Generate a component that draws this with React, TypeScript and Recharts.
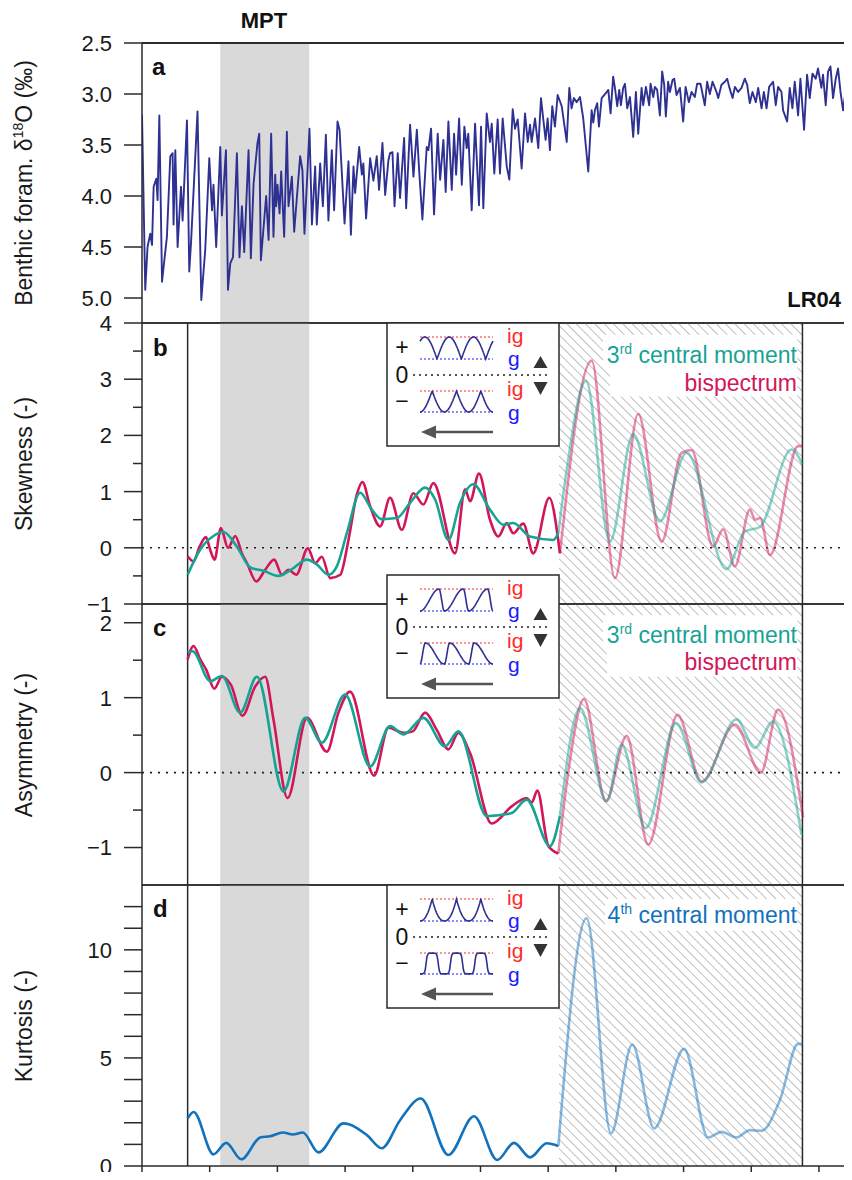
import React from "react";
import { LineChart, Line, XAxis, YAxis, ReferenceArea, ReferenceLine } from "recharts";

// ---- data (age in Ma) ----
const AGE_A = [
  0.0, 0.024, 0.041, 0.061, 0.074, 0.086, 0.106, 0.115, 0.128, 0.148, 0.165, 0.184, 0.209, 0.226, 0.233, 0.246, 0.263,
  0.288, 0.3, 0.332, 0.349, 0.362, 0.41, 0.438, 0.467, 0.497, 0.517, 0.528, 0.548, 0.578, 0.59, 0.62, 0.635, 0.652,
  0.672, 0.701, 0.72, 0.738, 0.755, 0.787, 0.804, 0.824, 0.853, 0.866, 0.878, 0.917, 0.935, 0.954, 0.971, 0.984, 0.991,
  1.001, 1.016, 1.028, 1.05, 1.07, 1.082, 1.107, 1.124, 1.168, 1.185, 1.2, 1.237, 1.255, 1.279, 1.291, 1.316, 1.336,
  1.358, 1.377, 1.402, 1.419, 1.444, 1.459, 1.496, 1.525, 1.543, 1.562, 1.574, 1.604, 1.624, 1.635, 1.655, 1.685, 1.709,
  1.734, 1.751, 1.776, 1.796, 1.82, 1.832, 1.85, 1.865, 1.889, 1.906, 1.936, 1.951, 1.98, 2.005, 2.03, 2.047, 2.071,
  2.103, 2.115, 2.135, 2.157, 2.184, 2.202, 2.226, 2.243, 2.263, 2.288, 2.305, 2.32, 2.342, 2.362, 2.381, 2.398, 2.41,
  2.435, 2.46, 2.489, 2.504, 2.521, 2.546, 2.57, 2.583, 2.602, 2.627, 2.644, 2.664, 2.694, 2.713, 2.738, 2.755, 2.775,
  2.804, 2.829, 2.849, 2.866, 2.878, 2.903, 2.927, 2.947, 2.964, 2.981, 2.996, 3.013, 3.03, 3.05, 3.07, 3.1, 3.137,
  3.156, 3.173, 3.19, 3.21, 3.235, 3.259, 3.296, 3.321, 3.333, 3.345, 3.362, 3.375, 3.395, 3.427, 3.444, 3.461, 3.48,
  3.493, 3.51, 3.525, 3.537, 3.554, 3.567, 3.584, 3.604, 3.628, 3.648, 3.665, 3.69, 3.702, 3.722, 3.746, 3.756, 3.776,
  3.788, 3.805, 3.825, 3.842, 3.857, 3.869, 3.886, 3.899, 3.919, 3.931, 3.948, 3.973, 3.997, 4.015, 4.039, 4.059, 4.083,
  4.1, 4.125, 4.157, 4.174, 4.194, 4.214, 4.243, 4.256, 4.28, 4.305, 4.322, 4.337, 4.362, 4.379, 4.403, 4.428, 4.452,
  4.47, 4.489, 4.509, 4.534, 4.551, 4.576, 4.593, 4.613, 4.632, 4.661, 4.681, 4.698, 4.723, 4.735, 4.765, 4.784, 4.804,
  4.821, 4.846, 4.863, 4.89, 4.912, 4.932, 4.952, 4.976, 4.993, 5.018, 5.03, 5.05, 5.067, 5.085, 5.104, 5.124, 5.141,
  5.159, 5.178, 5.203, 5.222, 5.237,
];
const D18O = [
  3.2, 4.92, 4.5, 4.37, 4.48, 3.91, 3.83, 4.04, 3.21, 4.84, 4.63, 4.4, 3.61, 3.58, 4.28, 3.55, 4.5,
  3.91, 4.24, 3.26, 4.74, 4.46, 3.17, 5.02, 4.53, 3.63, 4.14, 3.89, 4.5, 3.52, 4.19, 3.55, 4.92, 4.66,
  4.6, 3.58, 4.6, 4.1, 4.55, 3.55, 4.61, 3.88, 3.48, 3.39, 4.63, 4.0, 4.43, 3.39, 4.4, 3.79, 4.1,
  3.89, 4.17, 3.76, 4.4, 3.37, 4.1, 3.81, 4.35, 3.61, 3.75, 4.37, 3.34, 4.28, 3.71, 4.28, 3.68, 4.1,
  3.4, 4.24, 3.55, 4.14, 3.27, 3.35, 4.27, 3.66, 4.38, 3.71, 3.97, 3.52, 3.79, 3.68, 4.22, 3.63, 3.85,
  3.61, 3.94, 3.48, 3.99, 3.65, 3.58, 3.57, 4.1, 3.58, 4.02, 3.43, 4.12, 3.3, 3.81, 3.35, 3.75, 4.23,
  3.52, 3.55, 3.34, 4.18, 3.39, 3.84, 3.45, 3.96, 3.27, 3.94, 3.39, 3.79, 3.24, 3.89, 3.32, 3.53, 3.39,
  4.14, 3.29, 4.09, 3.32, 4.12, 3.19, 3.47, 3.29, 3.78, 3.25, 3.78, 3.24, 3.71, 3.84, 3.15, 3.34, 3.25,
  3.73, 3.19, 3.47, 3.3, 3.47, 3.24, 3.53, 3.04, 3.25, 3.45, 3.24, 3.55, 3.12, 3.32, 3.01, 3.12, 3.47,
  2.94, 3.14, 3.04, 3.08, 3.03, 3.24, 3.76, 3.16, 3.28, 3.16, 3.09, 3.32, 3.04, 2.99, 2.96, 3.19, 2.83,
  2.94, 3.12, 2.96, 3.11, 2.94, 2.9, 3.14, 3.03, 3.42, 2.98, 3.39, 2.94, 3.11, 2.93, 3.11, 2.9, 3.03,
  2.93, 2.96, 3.21, 2.78, 2.91, 3.22, 2.88, 2.98, 2.86, 2.85, 3.01, 2.94, 3.27, 2.93, 3.08, 2.98, 3.03,
  2.9, 2.9, 3.11, 2.88, 3.0, 2.88, 2.98, 3.04, 2.91, 2.88, 2.85, 2.93, 3.04, 2.93, 2.98, 2.94, 2.85,
  2.91, 3.09, 2.98, 3.08, 2.94, 3.14, 2.98, 3.14, 2.93, 2.88, 3.11, 2.93, 2.98, 3.16, 3.27, 2.94, 3.14,
  2.88, 3.21, 2.85, 3.35, 2.81, 3.04, 2.8, 2.85, 2.75, 2.94, 2.81, 3.11, 2.78, 2.73, 3.04, 2.85, 2.75,
  2.98, 3.16, 2.91, 2.94, 2.88,
];

const SKEW_BI_AGE = [
  0.337, 0.381, 0.425, 0.472, 0.504, 0.536, 0.583, 0.635, 0.689, 0.738, 0.775, 0.844, 0.91, 0.976, 1.033, 1.082,
  1.139, 1.225, 1.279, 1.328, 1.39, 1.464, 1.525, 1.587, 1.628, 1.685, 1.759, 1.832, 1.919, 2.004, 2.078, 2.152,
  2.312, 2.386, 2.423, 2.489, 2.57, 2.632, 2.694, 2.742, 2.816, 2.89, 3.008, 3.087, 3.321, 3.493, 3.665, 3.838,
  3.985, 4.059, 4.218, 4.292, 4.379, 4.49, 4.528, 4.565, 4.638, 4.846, 4.878,
];
const SKEW_BI = [
  -0.15, -0.24, 0.02, 0.19, -0.04, -0.21, 0.35, 0.0, 0.21, -0.1, -0.27, -0.6, -0.39, -0.21, -0.48, -0.39,
  -0.48, -0.01, -0.27, -0.16, -0.54, -0.48, 0.14, 0.95, 1.17, 0.74, 0.38, 0.89, 0.32, 0.97, 0.77, 1.15,
  -0.1, 1.04, 0.83, 1.32, 0.5, 0.2, 0.44, 0.26, 0.43, -0.1, 0.89, -0.1, 3.33, -0.54, 2.38, 0.11,
  1.69, 1.74, 0.02, 0.33, -0.33, 0.68, 0.5, 0.53, -0.13, 1.81, 1.81,
];
const SKEW_CM_AGE = [
  0.337, 0.43, 0.528, 0.602, 0.701, 0.8, 0.898, 1.008, 1.107, 1.218, 1.292, 1.377, 1.439, 1.513, 1.611, 1.697,
  1.771, 1.882, 1.98, 2.091, 2.165, 2.263, 2.349, 2.447, 2.57, 2.669, 2.742, 2.866, 3.038, 3.075, 3.137, 3.279,
  3.456, 3.628, 3.825, 4.022, 4.317, 4.452, 4.563, 4.797, 4.878,
];
const SKEW_CM = [
  -0.48, -0.03, 0.21, 0.28, 0.02, -0.35, -0.41, -0.5, -0.38, -0.21, -0.3, -0.48, -0.33, 0.26, 0.98, 0.68,
  0.51, 0.53, 0.8, 1.07, 0.86, 0.14, 0.8, 1.13, 0.68, 0.41, 0.44, 0.2, 0.14, 0.26, 1.39, 2.97,
  0.11, 2.02, 0.47, 1.69, -0.38, 0.29, 0.37, 1.75, 1.48,
];

const ASYM_BI_AGE = [
  0.337, 0.381, 0.43, 0.475, 0.534, 0.59, 0.657, 0.742, 0.836, 0.91, 0.971, 1.075, 1.218, 1.365, 1.451, 1.537,
  1.714, 1.82, 1.931, 2.0, 2.091, 2.177, 2.263, 2.337, 2.423, 2.583, 2.731, 2.841, 2.878, 2.92, 3.001, 3.075,
  3.148, 3.264, 3.427, 3.579, 3.739, 3.956, 4.133, 4.379, 4.571, 4.698, 4.883,
];
const ASYM_BI = [
  1.51, 1.69, 1.51, 1.37, 1.12, 1.28, 1.17, 0.76, 1.15, 1.28, 0.71, -0.34, 0.73, 0.28, 0.8, 1.08,
  -0.04, 0.6, 0.53, 0.55, 0.8, 0.57, 0.31, 0.53, 0.26, -0.68, -0.45, -0.34, -0.4, -0.24, -0.98, -1.08,
  0.0, 0.98, -0.38, 0.49, -0.96, 0.77, -0.12, 0.64, 0.0, 0.84, -0.6,
];
const ASYM_CM_AGE = [
  0.337, 0.373, 0.504, 0.59, 0.725, 0.849, 1.045, 1.205, 1.328, 1.5, 1.685, 1.832, 1.931, 2.078, 2.238, 2.337,
  2.546, 2.669, 2.731, 2.841, 3.013, 3.087, 3.235, 3.432, 3.542, 3.72, 3.945, 4.133, 4.391, 4.526, 4.661, 4.871,
];
const ASYM_CM = [
  1.6, 1.62, 1.22, 1.29, 0.8, 1.28, -0.25, 0.73, 0.4, 1.04, 0.08, 0.62, 0.51, 0.73, 0.35, 0.55,
  -0.58, -0.56, -0.54, -0.36, -0.98, -0.58, 0.86, -0.38, 0.37, -0.74, 0.66, -0.13, 0.71, 0.33, 0.68, -0.83,
];

const KURT_AGE = [
  0.337, 0.381, 0.528, 0.622, 0.733, 0.873, 0.947, 1.041, 1.114, 1.188, 1.303, 1.488, 1.661, 1.771, 1.906, 2.059,
  2.263, 2.452, 2.624, 2.748, 2.866, 2.989, 3.075, 3.284, 3.464, 3.621, 3.783, 4.004, 4.182, 4.28, 4.391, 4.489,
  4.576, 4.711, 4.846, 4.878,
];
const KURT = [
  2.2, 2.5, 0.54, 1.07, 0.31, 1.32, 1.38, 1.55, 1.46, 1.55, 0.63, 1.97, 1.43, 0.82, 2.12, 3.12,
  0.51, 2.3, 0.28, 1.07, 0.4, 1.05, 0.92, 11.46, 1.51, 5.62, 1.74, 5.42, 1.32, 1.58, 1.32, 1.66,
  1.63, 3.04, 5.65, 5.65,
];

const X_TICKS = [0, 0.5, 1, 1.5, 2, 2.5, 3, 3.5, 4, 4.5, 5];
const TICKS_A = [2.5, 3, 3.5, 4, 4.5, 5];
const TICKS_B = [-1, -0.5, 0, 0.5, 1, 1.5, 2, 2.5, 3, 3.5, 4];
const TICKS_C = [-1, -0.5, 0, 0.5, 1, 1.5, 2];
const TICKS_D = [0, 1, 2, 3, 4, 5, 6, 7, 8, 9, 10, 11, 12];

// ---- layout / style ----
const W = 852;
const AXIS_W = 142;
const X_MAX = 5.244;
const MPT = [0.578, 1.235];
const WINDOW = [0.337, 4.878];
const HATCH_START = 3.08;
const CUT = 3.09;

const FONT = '"Liberation Sans", Arial, Helvetica, sans-serif';
const INK = "#2a2a2a";
const NAVY = "#2e3192";
const TEAL = "#17a394";
const CRIMSON = "#d2165a";
const KBLUE = "#1172bd";
const RED = "#ff2a2a";
const BLUE = "#1a1aff";

type Pt = { age: number; v: number };

const toPts = (ages: number[], vals: number[]): Pt[] => ages.map((a, i) => ({ age: a, v: vals[i] }));

// solid part before the hatched window, faded part after it (sharing the joining point)
function split(ages: number[], vals: number[]): [Pt[], Pt[]] {
  const pts = toPts(ages, vals);
  let k = 0;
  pts.forEach((p, i) => {
    if (p.age <= CUT) k = i;
  });
  return [pts.slice(0, k + 1), pts.slice(k)];
}

const fmtNum = (v: number) => (v < 0 ? "\u2212" + Math.abs(v) : String(v));

function YTick(props: any) {
  const { x, y, payload, isMajor, isLong, format } = props;
  const v = payload.value;
  const ax = x + 12 + 18;
  const long = isLong(v);
  return (
    <g>
      <line x1={ax - (long ? 18 : 9)} x2={ax} y1={y} y2={y} stroke={INK} strokeWidth={1.5} />
      {isMajor(v) && (
        <text x={x} y={y} dy="0.36em" textAnchor="end" fontFamily={FONT} fontSize={22} fill="#1a1a1a">
          {format(v)}
        </text>
      )}
    </g>
  );
}

type SeriesDef = { color: string; solid: Pt[]; faded: Pt[] };

function MomentPanel(props: {
  top: number;
  domain: [number, number];
  ticks: number[];
  isMajor: (v: number) => boolean;
  isLong: (v: number) => boolean;
  series: SeriesDef[];
  boxes: [number, number, number, number][];
  zero: boolean;
  xAxis: boolean;
}) {
  const { top, domain, ticks, isMajor, isLong, series, boxes, zero, xAxis } = props;
  const h = 281;
  const height = 20 + h + (xAxis ? 30 : 20);
  return (
    <div style={{ position: "absolute", left: 0, top: top - 20 }}>
      <LineChart width={W} height={height} margin={{ top: 20, right: 0, bottom: xAxis ? 0 : 20, left: 0 }}>
        <XAxis
          type="number"
          dataKey="age"
          domain={[0, X_MAX]}
          allowDataOverflow
          hide={!xAxis}
          ticks={X_TICKS}
          interval={0}
          height={30}
          tickSize={14}
          tick={() => <g />}
          axisLine={{ stroke: INK, strokeWidth: 1.5 }}
          tickLine={{ stroke: INK, strokeWidth: 1.5 }}
        />
        <YAxis
          type="number"
          domain={domain}
          allowDataOverflow
          ticks={ticks}
          interval={0}
          width={AXIS_W}
          tickSize={18}
          tickMargin={12}
          tickLine={false}
          axisLine={{ stroke: INK, strokeWidth: 1.5 }}
          tick={(p: any) => <YTick {...p} isMajor={isMajor} isLong={isLong} format={fmtNum} />}
        />
        <ReferenceArea x1={MPT[0]} x2={MPT[1]} fill="#d9d9d9" fillOpacity={1} stroke="none" />
        <ReferenceArea x1={HATCH_START} x2={WINDOW[1]} fill="url(#hatch)" fillOpacity={1} stroke="none" />
        {boxes.map((b, i) => (
          <ReferenceArea key={i} x1={b[0]} x2={b[1]} y1={b[2]} y2={b[3]} fill="#fff" fillOpacity={1} stroke="none" />
        ))}
        {zero && <ReferenceLine y={0} stroke="#222" strokeWidth={1.6} strokeDasharray="2 6" />}
        <ReferenceLine x={WINDOW[0]} stroke={INK} strokeWidth={1.5} />
        <ReferenceLine x={WINDOW[1]} stroke={INK} strokeWidth={1.5} />
        {series.map((s, i) => (
          <Line
            key={"s" + i}
            data={s.solid}
            dataKey="v"
            type="monotone"
            stroke={s.color}
            strokeWidth={2.6}
            dot={false}
            activeDot={false}
            isAnimationActive={false}
          />
        ))}
        {series.map((s, i) => (
          <Line
            key={"f" + i}
            data={s.faded}
            dataKey="v"
            type="monotone"
            stroke={s.color}
            strokeOpacity={0.5}
            strokeWidth={2.6}
            dot={false}
            activeDot={false}
            isAnimationActive={false}
          />
        ))}
        <ReferenceLine y={domain[1]} stroke={INK} strokeWidth={1.5} />
        {!xAxis && <ReferenceLine y={domain[0]} stroke={INK} strokeWidth={1.5} />}
      </LineChart>
    </div>
  );
}

// schematic waveforms for the inset keys
function wavePath(kind: string, x0: number, x1: number, top: number, bottom: number) {
  const n = 160;
  const out: string[] = [];
  for (let i = 0; i <= n; i++) {
    let t = (i / n) * 3;
    let f = 0;
    if (kind === "skew+") {
      t += 0.3;
      f = Math.sin(Math.PI * (t - Math.floor(t)));
    } else if (kind === "skew-") {
      t += 0.5;
      f = 1 - Math.sin(Math.PI * (t - Math.floor(t)));
    } else if (kind === "asym+" || kind === "asym-") {
      let u = t - Math.floor(t);
      if (kind === "asym-") u = 1 - u;
      f = u < 0.78 ? 0.5 - 0.5 * Math.cos((Math.PI * u) / 0.78) : 0.5 + 0.5 * Math.cos((Math.PI * (u - 0.78)) / 0.22);
    } else if (kind === "kurt+") {
      const u = t - Math.floor(t);
      f = Math.pow(1 - Math.abs(2 * u - 1), 2.2);
    } else {
      f = 0.5 - 0.5 * Math.tanh(3 * Math.cos(2 * Math.PI * t));
    }
    const x = x0 + ((x1 - x0) * i) / n;
    const y = bottom - (bottom - top) * f;
    out.push((i ? "L" : "M") + x.toFixed(1) + "," + y.toFixed(1));
  }
  return out.join("");
}

function KeyBox({ T, kind }: { T: number; kind: string }) {
  const X = 387;
  const wx0 = 420;
  const wx1 = 493;
  const txt = { fontFamily: FONT, fontSize: 23 };
  const small = { fontFamily: FONT, fontSize: 21 };
  return (
    <g>
      <rect x={X} y={T} width={172} height={123} fill="#fff" stroke={INK} strokeWidth={1.5} />
      <text x={402} y={T + 32} textAnchor="middle" {...txt} fill="#111">+</text>
      <text x={402} y={T + 60} textAnchor="middle" {...txt} fill="#111">0</text>
      <text x={402} y={T + 86} textAnchor="middle" {...txt} fill="#111">{"\u2212"}</text>
      <line x1={wx0} x2={wx1} y1={T + 14} y2={T + 14} stroke={RED} strokeWidth={1.2} strokeDasharray="2 2" />
      <line x1={wx0} x2={wx1} y1={T + 36} y2={T + 36} stroke={BLUE} strokeWidth={1.2} strokeDasharray="2 2" />
      <line x1={wx0} x2={wx1} y1={T + 68} y2={T + 68} stroke={RED} strokeWidth={1.2} strokeDasharray="2 2" />
      <line x1={wx0} x2={wx1} y1={T + 89} y2={T + 89} stroke={BLUE} strokeWidth={1.2} strokeDasharray="2 2" />
      <path d={wavePath(kind + "+", wx0, wx1, T + 14, T + 36)} fill="none" stroke={NAVY} strokeWidth={1.6} />
      <path d={wavePath(kind + "-", wx0, wx1, T + 68, T + 89)} fill="none" stroke={NAVY} strokeWidth={1.6} />
      <line x1={413} x2={549} y1={T + 52} y2={T + 52} stroke="#222" strokeWidth={1.5} strokeDasharray="2 4" />
      <text x={507} y={T + 20} {...small} fill={RED}>ig</text>
      <text x={508} y={T + 43} {...small} fill={BLUE}>g</text>
      <text x={507} y={T + 73} {...small} fill={RED}>ig</text>
      <text x={508} y={T + 97} {...small} fill={BLUE}>g</text>
      <polygon points={`540.5,${T + 33} 533.5,${T + 45} 547.5,${T + 45}`} fill="#333" />
      <polygon points={`533.5,${T + 59} 547.5,${T + 59} 540.5,${T + 72}`} fill="#333" />
      <line x1={493} x2={432} y1={T + 109} y2={T + 109} stroke="#555" strokeWidth={2.4} />
      <polygon points={`421,${T + 109} 436,${T + 102.5} 436,${T + 115.5}`} fill="#555" />
    </g>
  );
}

export default function App() {
  const lr04 = toPts(AGE_A, D18O);
  const [skBiS, skBiF] = split(SKEW_BI_AGE, SKEW_BI);
  const [skCmS, skCmF] = split(SKEW_CM_AGE, SKEW_CM);
  const [asBiS, asBiF] = split(ASYM_BI_AGE, ASYM_BI);
  const [asCmS, asCmF] = split(ASYM_CM_AGE, ASYM_CM);
  const [kuS, kuF] = split(KURT_AGE, KURT);

  const intMajor = (v: number) => Number.isInteger(v);
  const title = { fontFamily: FONT, fontSize: 23, fill: "#1a1a1a" };
  const bold = { fontFamily: FONT, fontSize: 24, fontWeight: 700, fill: "#111" };
  const leg = { fontFamily: FONT, fontSize: 23 };

  return (
    <div style={{ position: "relative", width: W, height: 1180, margin: -8, overflow: "hidden", background: "#fff" }}>
      <svg width={0} height={0} style={{ position: "absolute" }}>
        <defs>
          <pattern id="hatch" patternUnits="userSpaceOnUse" width={6.6} height={6.6} patternTransform="rotate(45)">
            <line x1={0} y1={3.3} x2={6.6} y2={3.3} stroke="#bdbdbd" strokeWidth={1} />
          </pattern>
        </defs>
      </svg>

      {/* panel a: LR04 stack */}
      <div style={{ position: "absolute", left: 0, top: 23 }}>
        <LineChart width={W} height={320} margin={{ top: 20, right: 0, bottom: 20, left: 0 }}>
          <XAxis type="number" dataKey="age" domain={[0, X_MAX]} allowDataOverflow hide />
          <YAxis
            type="number"
            domain={[2.5, 5.245]}
            reversed
            allowDataOverflow
            ticks={TICKS_A}
            interval={0}
            width={AXIS_W}
            tickSize={18}
            tickMargin={12}
            tickLine={false}
            axisLine={{ stroke: INK, strokeWidth: 1.5 }}
            tick={(p: any) => (
              <YTick {...p} isMajor={() => true} isLong={() => true} format={(v: number) => v.toFixed(1)} />
            )}
          />
          <ReferenceArea x1={MPT[0]} x2={MPT[1]} fill="#d9d9d9" fillOpacity={1} stroke="none" />
          <Line
            data={lr04}
            dataKey="v"
            type="linear"
            stroke={NAVY}
            strokeWidth={1.9}
            strokeLinejoin="round"
            dot={false}
            activeDot={false}
            isAnimationActive={false}
          />
          <ReferenceLine y={2.5} stroke={INK} strokeWidth={1.8} />
          <ReferenceLine y={5.245} stroke={INK} strokeWidth={1.5} />
        </LineChart>
      </div>

      <MomentPanel
        top={323}
        domain={[-1, 4]}
        ticks={TICKS_B}
        isMajor={intMajor}
        isLong={intMajor}
        zero
        xAxis={false}
        boxes={[
          [3.405, 4.84, 3.22, 3.79],
          [3.456, 4.84, 2.69, 3.22],
        ]}
        series={[
          { color: CRIMSON, solid: skBiS, faded: skBiF },
          { color: TEAL, solid: skCmS, faded: skCmF },
        ]}
      />
      <MomentPanel
        top={604}
        domain={[-1.5, 2.25]}
        ticks={TICKS_C}
        isMajor={intMajor}
        isLong={intMajor}
        zero
        xAxis={false}
        boxes={[
          [3.405, 4.84, 1.68, 2.1],
          [3.435, 4.84, 1.28, 1.68],
        ]}
        series={[
          { color: CRIMSON, solid: asBiS, faded: asBiF },
          { color: TEAL, solid: asCmS, faded: asCmF },
        ]}
      />
      <MomentPanel
        top={885}
        domain={[0, 13]}
        ticks={TICKS_D}
        isMajor={(v) => v % 5 === 0}
        isLong={() => true}
        zero={false}
        xAxis
        boxes={[[3.42, 4.84, 10.88, 12.35]]}
        series={[{ color: KBLUE, solid: kuS, faded: kuF }]}
      />

      {/* annotations */}
      <svg width={W} height={1180} style={{ position: "absolute", left: 0, top: 0, pointerEvents: "none" }}>
        <text x={264} y={28} textAnchor="middle" {...bold} fontSize={22}>MPT</text>
        <text x={841} y={307} textAnchor="end" {...bold} fontSize={22}>LR04</text>
        <text x={152} y={75} {...bold}>a</text>
        <text x={153} y={356} {...bold}>b</text>
        <text x={153} y={636} {...bold}>c</text>
        <text x={153} y={917} {...bold}>d</text>

        <text x={32} y={183} transform="rotate(-90 32 183)" textAnchor="middle" {...title}>
          Benthic foram. δ<tspan fontSize={14} dy={-9}>18</tspan>
          <tspan dy={9}>O (‰)</tspan>
        </text>
        <text x={32} y={464} transform="rotate(-90 32 464)" textAnchor="middle" {...title}>Skewness (-)</text>
        <text x={32} y={745} transform="rotate(-90 32 745)" textAnchor="middle" {...title}>Asymmetry (-)</text>
        <text x={32} y={1026} transform="rotate(-90 32 1026)" textAnchor="middle" {...title}>Kurtosis (-)</text>

        <text x={797} y={363} textAnchor="end" {...leg} fill={TEAL}>
          3<tspan fontSize={14} dy={-9}>rd</tspan>
          <tspan dy={9}> central moment</tspan>
        </text>
        <text x={797} y={391} textAnchor="end" {...leg} fill={CRIMSON}>bispectrum</text>
        <text x={797} y={643} textAnchor="end" {...leg} fill={TEAL}>
          3<tspan fontSize={14} dy={-9}>rd</tspan>
          <tspan dy={9}> central moment</tspan>
        </text>
        <text x={797} y={670} textAnchor="end" {...leg} fill={CRIMSON}>bispectrum</text>
        <text x={797} y={923} textAnchor="end" {...leg} fill={KBLUE}>
          4<tspan fontSize={14} dy={-9}>th</tspan>
          <tspan dy={9}> central moment</tspan>
        </text>

        <KeyBox T={323} kind="skew" />
        <KeyBox T={575} kind="asym" />
        <KeyBox T={885} kind="kurt" />
      </svg>
    </div>
  );
}
